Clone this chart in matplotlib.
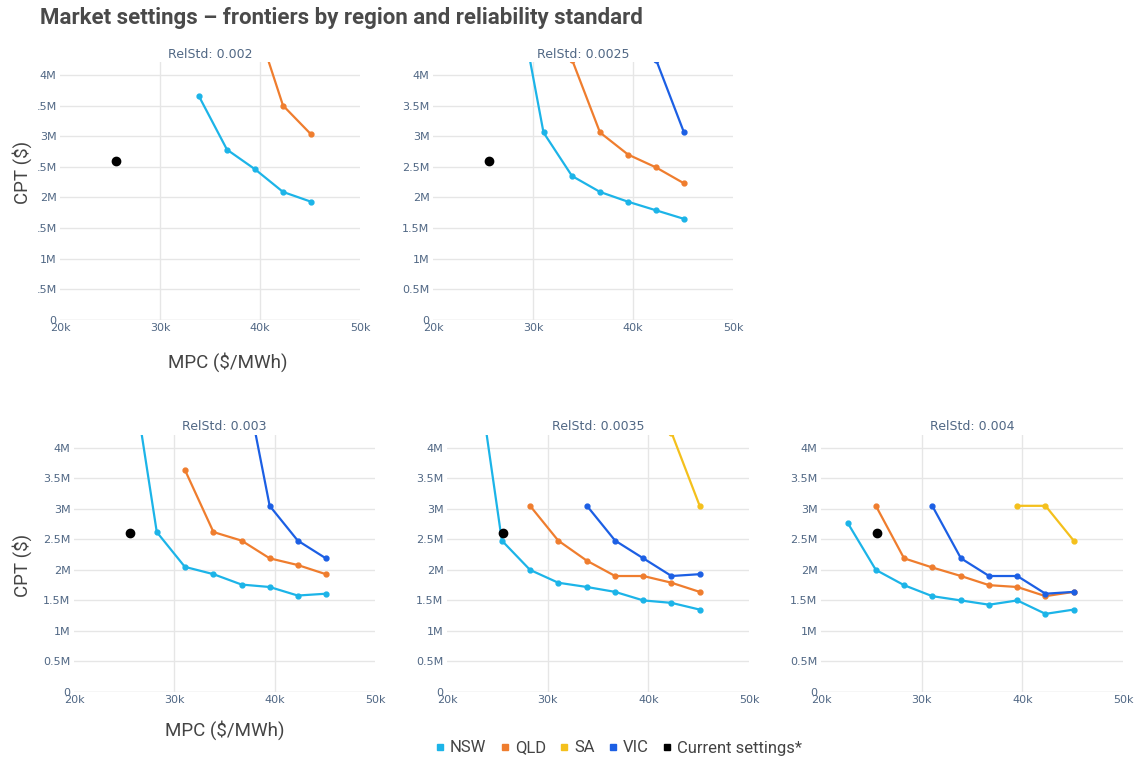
import numpy as np
import matplotlib
matplotlib.use("Agg")
import matplotlib.pyplot as plt
from matplotlib.lines import Line2D

nan = np.nan

# MPC grid ($/MWh, thousands)
mpc_k = [22.65, 25.45, 28.25, 31.05, 33.9, 36.7, 39.5, 42.3, 45.1]

# CPT frontiers in $M, one list per region and reliability standard
nsw_002 = [nan, nan, nan, nan, 3.65, 2.78, 2.46, 2.09, 1.93]
qld_002 = [nan, nan, nan, nan, nan, nan, 4.9, 3.50, 3.03]

nsw_0025 = [nan, nan, 5.5, 3.06, 2.35, 2.09, 1.93, 1.79, 1.65]
qld_0025 = [nan, nan, nan, nan, 4.25, 3.06, 2.70, 2.49, 2.23]
vic_0025 = [nan, nan, nan, nan, nan, nan, nan, 4.25, 3.06]

nsw_003 = [nan, 5.6, 2.62, 2.05, 1.93, 1.76, 1.72, 1.58, 1.61]
qld_003 = [nan, nan, nan, 3.64, 2.62, 2.48, 2.19, 2.08, 1.93]
vic_003 = [nan, nan, nan, nan, nan, 5.4, 3.05, 2.48, 2.19]

nsw_0035 = [5.7, 2.48, 2.00, 1.79, 1.72, 1.64, 1.50, 1.46, 1.35]
qld_0035 = [nan, nan, 3.05, 2.48, 2.15, 1.90, 1.90, 1.79, 1.64]
sa_0035 = [nan, nan, nan, nan, nan, nan, nan, 4.25, 3.05]
vic_0035 = [nan, nan, nan, nan, 3.05, 2.48, 2.19, 1.90, 1.93]

nsw_004 = [2.77, 2.00, 1.75, 1.57, 1.50, 1.43, 1.50, 1.28, 1.35]
qld_004 = [nan, 3.05, 2.19, 2.04, 1.90, 1.75, 1.72, 1.57, 1.64]
sa_004 = [nan, nan, nan, nan, nan, nan, 3.05, 3.05, 2.48]
vic_004 = [nan, nan, nan, 3.05, 2.19, 1.90, 1.90, 1.61, 1.64]

current_mpc_k = 25.6
current_cpt_m = 2.6

regions = ["NSW", "QLD", "SA", "VIC"]
colors = {"NSW": "#1cb4e8", "QLD": "#ef7d2e", "SA": "#f4c01c", "VIC": "#1c5fe4"}

panels = [
    ("0.002", {"NSW": nsw_002, "QLD": qld_002}),
    ("0.0025", {"NSW": nsw_0025, "QLD": qld_0025, "VIC": vic_0025}),
    ("0.003", {"NSW": nsw_003, "QLD": qld_003, "VIC": vic_003}),
    ("0.0035", {"NSW": nsw_0035, "QLD": qld_0035, "SA": sa_0035, "VIC": vic_0035}),
    ("0.004", {"NSW": nsw_004, "QLD": qld_004, "SA": sa_004, "VIC": vic_004}),
]

W, H = 1139, 760
# plot areas in pixels: left, top, right, bottom
rects = [
    (60, 62, 360, 320),
    (433, 62, 733, 320),
    (74, 435, 375, 692),
    (447, 435, 749, 692),
    (821, 435, 1123, 692),
]

tick_col = "#506784"
grid_col = "#e6e6e6"
title_col = "#444444"

fig = plt.figure(figsize=(W / 100, H / 100), dpi=100)

mpc = np.array(mpc_k) * 1e3
yticks = np.arange(0, 4.01e6, 0.5e6)

for i, ((std, series), (l, t, r, b)) in enumerate(zip(panels, rects)):
    ax = fig.add_axes([l / W, 1 - b / H, (r - l) / W, (b - t) / H])
    for reg in regions:
        if reg not in series:
            continue
        y = np.array(series[reg]) * 1e6
        ax.plot(mpc, y, color=colors[reg], lw=1.6, marker="o", ms=3.5, zorder=3)
    ax.plot([current_mpc_k * 1e3], [current_cpt_m * 1e6], "o", color="black", ms=6, zorder=4)

    ax.set_xlim(20e3, 50e3)
    ax.set_ylim(0, 4.21e6)
    ax.set_xticks([20e3, 30e3, 40e3, 50e3])
    ax.set_xticklabels(["20k", "30k", "40k", "50k"])
    ax.set_yticks(yticks)
    if i == 0:
        ylabels = ["0", ".5M", "1M", ".5M", "2M", ".5M", "3M", ".5M", "4M"]
    else:
        ylabels = ["0", "0.5M", "1M", "1.5M", "2M", "2.5M", "3M", "3.5M", "4M"]
    ax.set_yticklabels(ylabels)
    ax.tick_params(length=0, labelsize=8, colors=tick_col, pad=2.5)
    for s in ax.spines.values():
        s.set_visible(False)
    ax.set_axisbelow(True)
    ax.grid(True, axis="y", color=grid_col, lw=1)
    for gx in (30e3, 40e3):
        ax.axvline(gx, color=grid_col, lw=1, zorder=0)
    ax.axhline(0, color=grid_col, lw=1, zorder=0)

    fig.text((l + r) / 2 / W, 1 - (t - 8) / H, f"RelStd: {std}", ha="center", va="center",
             fontsize=9, color=tick_col)

    if i in (0, 2):
        fig.text(22 / W, 1 - (172 if i == 0 else 565) / H, "CPT ($)", rotation=90,
                 ha="center", va="center", fontsize=13.5, color=title_col, family="Roboto")
        fig.text((228 if i == 0 else 225) / W, 1 - (362 if i == 0 else 730) / H, "MPC ($/MWh)",
                 ha="center", va="center", fontsize=13.5, color=title_col, family="Roboto")

fig.text(40 / W, 1 - 18 / H, "Market settings \u2013 frontiers by region and reliability standard",
         ha="left", va="center", fontsize=16, fontweight="bold", color="#4a4a4a", family="Roboto")

handles = [Line2D([], [], ls="", marker="s", ms=5, color=colors[reg]) for reg in regions]
handles.append(Line2D([], [], ls="", marker="s", ms=5, color="black"))
labels = regions + ["Current settings*"]
fig.legend(handles, labels, loc="center", bbox_to_anchor=(617 / W, 1 - 748 / H), ncol=5,
           frameon=False, handletextpad=0.1, columnspacing=0.6, handlelength=1.0,
           prop={"family": "Roboto", "size": 12}, labelcolor=title_col)

fig.savefig("out.png", dpi=100)
